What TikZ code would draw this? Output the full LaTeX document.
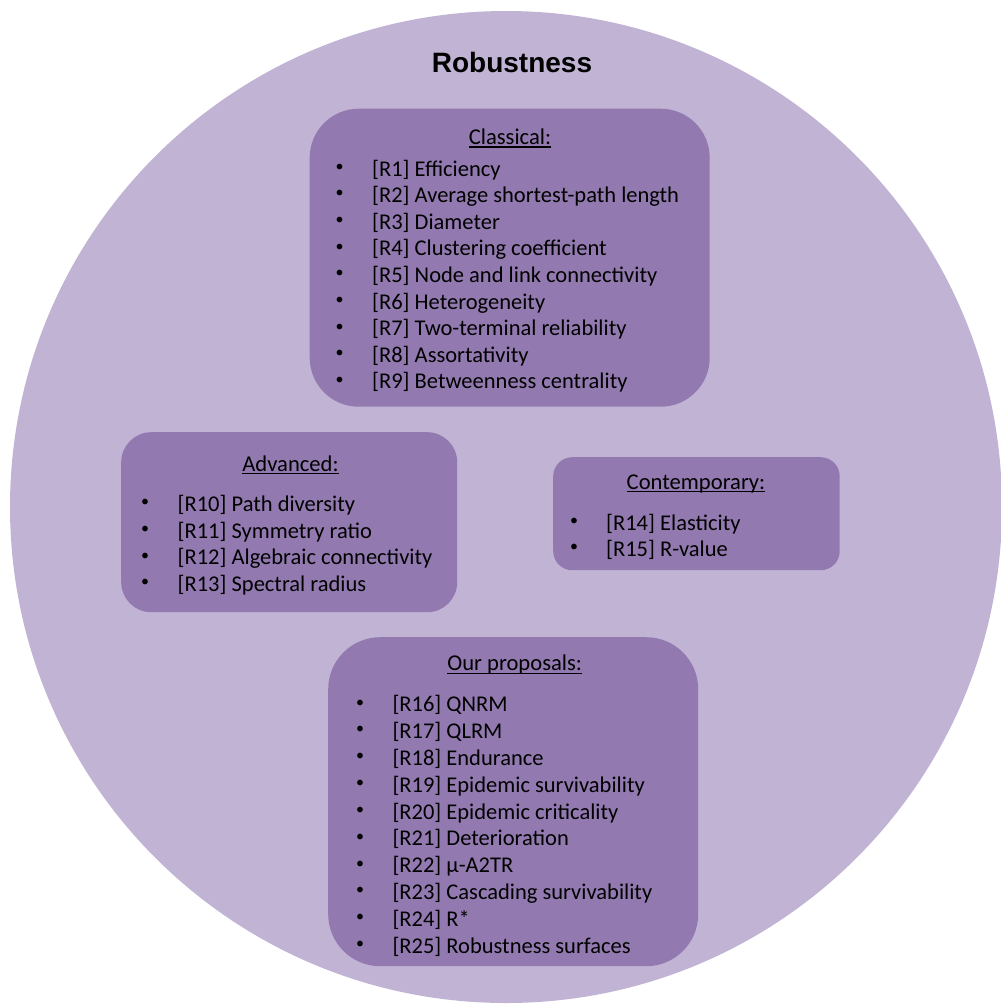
\documentclass[tikz,border=0pt]{standalone}
\usepackage{fontspec}
\setmainfont{Carlito}
\newfontfamily\titlefont{Liberation Sans}
\definecolor{ringfill}{RGB}{193,179,212}
\definecolor{boxfill}{RGB}{146,122,176}
% header text with an underline at a fixed depth (crossing descenders)
\newcommand\ulhead[1]{\setbox0=\hbox{#1}\rlap{\rule[-3.2pt]{\wd0}{1.25pt}}\box0}
\tikzset{
  groupbox/.style={fill=boxfill, draw=none, anchor=north west, inner sep=0pt},
  headtext/.style={anchor=base, inner sep=0pt, font=\fontsize{22.6pt}{26.7pt}\selectfont},
  itemtext/.style={anchor=base west, inner sep=0pt, font=\fontsize{22.5pt}{26.7pt}\selectfont},
  bullettext/.style={anchor=center, inner sep=0pt, font=\fontsize{16pt}{18pt}\selectfont},
}
\begin{document}
\begin{tikzpicture}[x=1pt,y=-1pt]
\useasboundingbox (0,0) rectangle (1001,1005);
% outer disc
\fill[ringfill] (506,507) circle [radius=496pt];
\node[anchor=base, inner sep=0pt, font=\titlefont\bfseries\fontsize{28pt}{30pt}\selectfont] (title) at (512,72) {Robustness};

% group boxes
\node[groupbox, minimum width=400pt, minimum height=298pt, rounded corners=49pt] (clsbox) at (309.5,108.5) {};
\node[groupbox, minimum width=336pt, minimum height=180pt, rounded corners=30pt] (advbox) at (121,432) {};
\node[groupbox, minimum width=286.5pt, minimum height=113pt, rounded corners=19pt] (conbox) at (553,457) {};
\node[groupbox, minimum width=370pt, minimum height=329pt, rounded corners=52pt] (ourbox) at (328,637) {};

% Classical
\node[headtext] (clshead) at (510,144.5) {\ulhead{Classical:}};
\foreach \t [count=\i] in {{[R1] Efficiency},{[R2] Average shortest-path length},{[R3] Diameter},{[R4] Clustering coefficient},{[R5] Node and link connectivity},{[R6] Heterogeneity},{[R7] Two-terminal reliability},{[R8] Assortativity},{[R9] Betweenness centrality}}{
  \node[bullettext] (clsb\i) at ({339.5},{176+26.62*(\i-1)-8.3}) {•};
  \node[itemtext] (clsi\i) at ({372},{176+26.62*(\i-1)}) {\t};
}

% Advanced
\node[headtext] (advhead) at (290.5,471) {\ulhead{Advanced:}};
\foreach \t [count=\i] in {{[R10] Path diversity},{[R11] Symmetry ratio},{[R12] Algebraic connectivity},{[R13] Spectral radius}}{
  \node[bullettext] (advb\i) at ({145},{511.5+26.67*(\i-1)-8.3}) {•};
  \node[itemtext] (advi\i) at ({177.5},{511.5+26.67*(\i-1)}) {\t};
}

% Contemporary
\node[headtext] (conhead) at (696,489) {\ulhead{Contemporary:}};
\foreach \t [count=\i] in {{[R14] Elasticity},{[R15] R-value}}{
  \node[bullettext] (conb\i) at ({574},{530+26.5*(\i-1)-8.3}) {•};
  \node[itemtext] (coni\i) at ({606},{530+26.5*(\i-1)}) {\t};
}

% Our proposals
\node[headtext] (ourhead) at (514.7,670.7) {\ulhead{Our proposals:}};
\foreach \t [count=\i] in {{[R16] QNRM},{[R17] QLRM},{[R18] Endurance},{[R19] Epidemic survivability},{[R20] Epidemic criticality},{[R21] Deterioration},{[R22] µ-A2TR},{[R23] Cascading survivability},{[R24] R*},{[R25] Robustness surfaces}}{
  \node[bullettext] (ourb\i) at ({360},{711.7+26.84*(\i-1)-8.3}) {•};
  \node[itemtext] (ouri\i) at ({392.3},{711.7+26.84*(\i-1)}) {\t};
}
\end{tikzpicture}
\end{document}
